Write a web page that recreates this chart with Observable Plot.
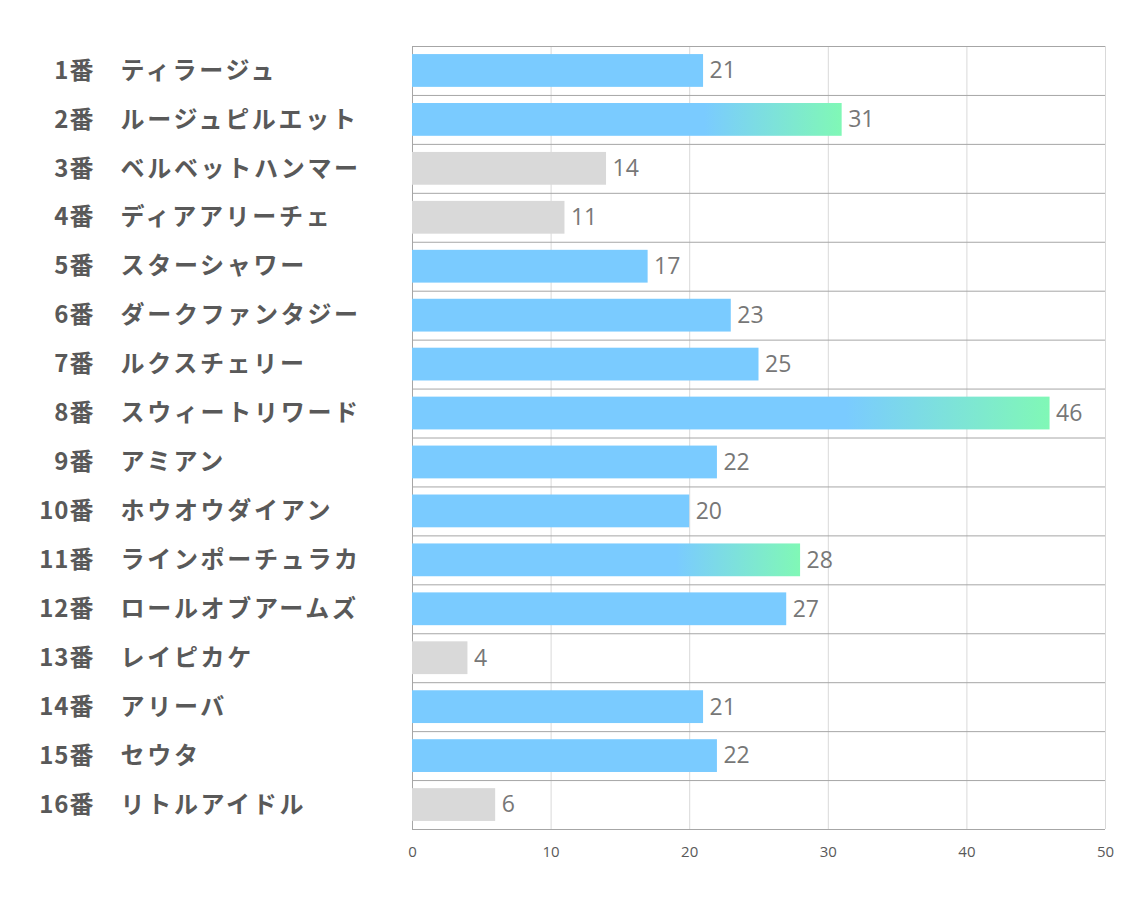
<!DOCTYPE html>
<html>
<head>
<meta charset="utf-8">
<script src="https://cdn.jsdelivr.net/npm/d3@7"></script>
<script src="https://cdn.jsdelivr.net/npm/@observablehq/plot@0.6"></script>
<style>
  html, body { margin: 0; padding: 0; background: #fff; }
  #chart { width: 1134px; height: 907px; }
</style>
</head>
<body>
<div id="chart"></div>
<script>
const numbers = ["1番","2番","3番","4番","5番","6番","7番","8番","9番","10番","11番","12番","13番","14番","15番","16番"];
const names = ["ティラージュ","ルージュピルエット","ベルベットハンマー","ディアアリーチェ","スターシャワー","ダークファンタジー","ルクスチェリー","スウィートリワード","アミアン","ホウオウダイアン","ラインポーチュラカ","ロールオブアームズ","レイピカケ","アリーバ","セウタ","リトルアイドル"];
const values = [21,31,14,11,17,23,25,46,22,20,28,27,4,21,22,6];
const kinds = ["blue","grad","gray","gray","blue","blue","blue","grad","blue","blue","grad","blue","gray","blue","blue","gray"];
const xTicks = [0,10,20,30,40,50];

const data = numbers.map((n, i) => ({num: n, name: names[i], value: values[i], kind: kinds[i]}));
const H = 907, W = 1134, mT = 46, mB = 78, mL = 412, mR = 29;
const step = (H - mT - mB) / numbers.length;

const defs = () => {
  const svg = d3.create("svg:defs");
  const g = svg.append("linearGradient").attr("id", "barGrad").attr("x1", "0").attr("x2", "1").attr("y1", "0").attr("y2", "0");
  g.append("stop").attr("offset", "0").attr("stop-color", "#7ACBFF");
  g.append("stop").attr("offset", "0.68").attr("stop-color", "#7ACBFF");
  g.append("stop").attr("offset", "1").attr("stop-color", "#80F8B6");
  return svg.node();
};

const labelFont = {fontFamily: "'Noto Sans CJK JP', 'Noto Sans', sans-serif", fontWeight: "bold", fontSize: 24, fill: "#595959"};

const chart = Plot.plot({
  width: W, height: H,
  marginTop: mT, marginBottom: mB, marginLeft: mL, marginRight: mR,
  style: {fontFamily: "'Open Sans', sans-serif", background: "#fff"},
  x: {domain: [0, 50], ticks: xTicks, label: null},
  y: {domain: numbers, paddingInner: 0.33, paddingOuter: 0.165, round: false, label: null, axis: null},
  marks: [
    defs,
    Plot.ruleX(xTicks.filter(d => d > 0), {stroke: "#d9d9d9", strokeOpacity: 1}),
    Plot.ruleY(numbers, {y: d => d, dy: -step / 2, stroke: "#a6a6a6"}),
    Plot.ruleY([numbers[numbers.length - 1]], {y: d => d, dy: step / 2, stroke: "#a6a6a6"}),
    Plot.ruleX([0], {stroke: "#a6a6a6"}),
    Plot.barX(data.filter(d => d.kind === "blue"), {x: "value", y: "num", fill: "#7ACBFF"}),
    Plot.barX(data.filter(d => d.kind === "gray"), {x: "value", y: "num", fill: "#D9D9D9"}),
    Plot.barX(data.filter(d => d.kind === "grad"), {x: "value", y: "num", fill: "url(#barGrad)"}),
    Plot.text(data, {x: "value", y: "num", text: d => String(d.value), textAnchor: "start", dx: 6, fontSize: 23, fill: "#777777"}),
    Plot.text(data, {y: "num", text: "num", frameAnchor: "left", textAnchor: "end", dx: -319 + 1, ...labelFont}),
    Plot.text(data, {y: "num", text: "name", frameAnchor: "left", textAnchor: "start", dx: -292, ...labelFont}),
    Plot.axisX({ticks: xTicks, tickSize: 0, tickPadding: 17, fontSize: 15, color: "#595959", label: null})
  ]
});
const textGroups = d3.select(chart).selectAll('g[aria-label="text"]').nodes();
if (textGroups.length >= 3) {
  d3.select(textGroups[1]).style("letter-spacing", "1px");
  d3.select(textGroups[2]).style("letter-spacing", "2.7px");
}
document.getElementById("chart").appendChild(chart);
</script>
</body>
</html>
